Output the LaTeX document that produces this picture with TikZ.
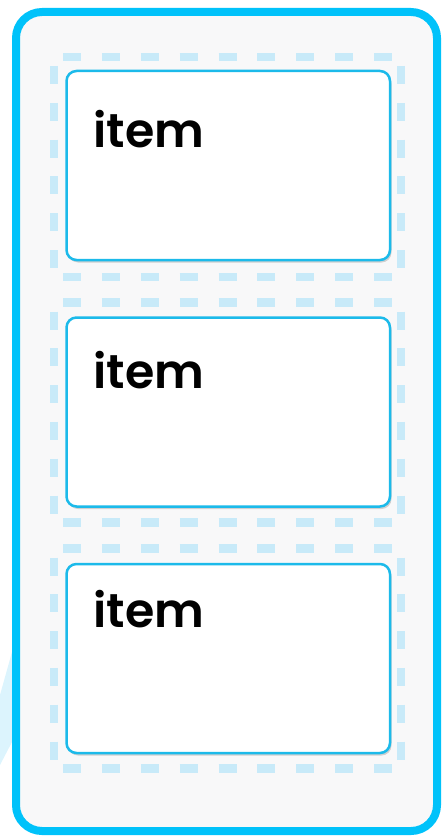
\documentclass[tikz,border=0pt]{standalone}
\usepackage{fontspec}
\setmainfont{Poppins}[BoldFont={Poppins SemiBold}]
\usetikzlibrary{shadows}
\definecolor{outerblue}{RGB}{0,194,250}
\definecolor{boxblue}{RGB}{28,186,234}
\definecolor{dashblue}{RGB}{200,234,249}
\definecolor{panelgray}{RGB}{248,248,249}
\definecolor{wedge}{RGB}{220,244,253}
\tikzset{
  outerframe/.style={draw=outerblue, line width=8pt, fill=panelgray, rounded corners=26pt,
    minimum width=421pt, minimum height=819pt, inner sep=0pt, outer sep=0pt},
  dashframe/.style={minimum width=347pt, minimum height=220pt, inner sep=0pt, outer sep=0pt},
  hside/.style={draw=dashblue, line width=8.5pt, dash pattern=on 18pt off 20.875pt},
  vside/.style={draw=dashblue, line width=8.5pt, dash pattern=on 18pt off 18.8pt},
  itembox/.style={draw=boxblue, line width=2.5pt, fill=white, rounded corners=10pt,
    minimum width=323.5pt, minimum height=189pt, inner sep=0pt, outer sep=0pt,
    drop shadow={shadow xshift=1.5pt, shadow yshift=-2.5pt, opacity=0.16, fill=black}},
  itemtext/.style={anchor=base west, inner sep=0pt, outer sep=0pt, text=black,
    font=\fontsize{47.5}{50}\selectfont\bfseries}
}
\newcommand{\dashsides}[1]{%
  \draw[hside] ([xshift=9pt]#1.north west) -- ([xshift=-9pt]#1.north east);
  \draw[hside] ([xshift=9pt]#1.south west) -- ([xshift=-9pt]#1.south east);
  \draw[vside] ([yshift=-9pt]#1.north west) -- ([yshift=9pt]#1.south west);
  \draw[vside] ([yshift=-9pt]#1.north east) -- ([yshift=9pt]#1.south east);
}
\begin{document}
\begin{tikzpicture}[x=1pt, y=-1pt]
  \useasboundingbox (0,0) rectangle (442,837);
  \fill[wedge] (12,652) -- (0,695) -- (0,765) -- (12,742) -- cycle;
  \node[outerframe] (outer) at (226.5,421.5) {};
  \node[dashframe] (d1) at (227.5,167) {};
  \node[dashframe] (d2) at (227.5,412.5) {};
  \node[dashframe] (d3) at (227.5,658.5) {};
  \dashsides{d1}
  \dashsides{d2}
  \dashsides{d3}
  \node[itembox] (b1) at (228.25,165.5) {};
  \node[itembox] (b2) at (228.25,412) {};
  \node[itembox] (b3) at (228.25,658.5) {};
  \node[itemtext] (t1) at (93.5,148) {item};
  \node[itemtext] (t2) at (93.5,388.5) {item};
  \node[itemtext] (t3) at (93.5,627) {item};
\end{tikzpicture}
\end{document}
